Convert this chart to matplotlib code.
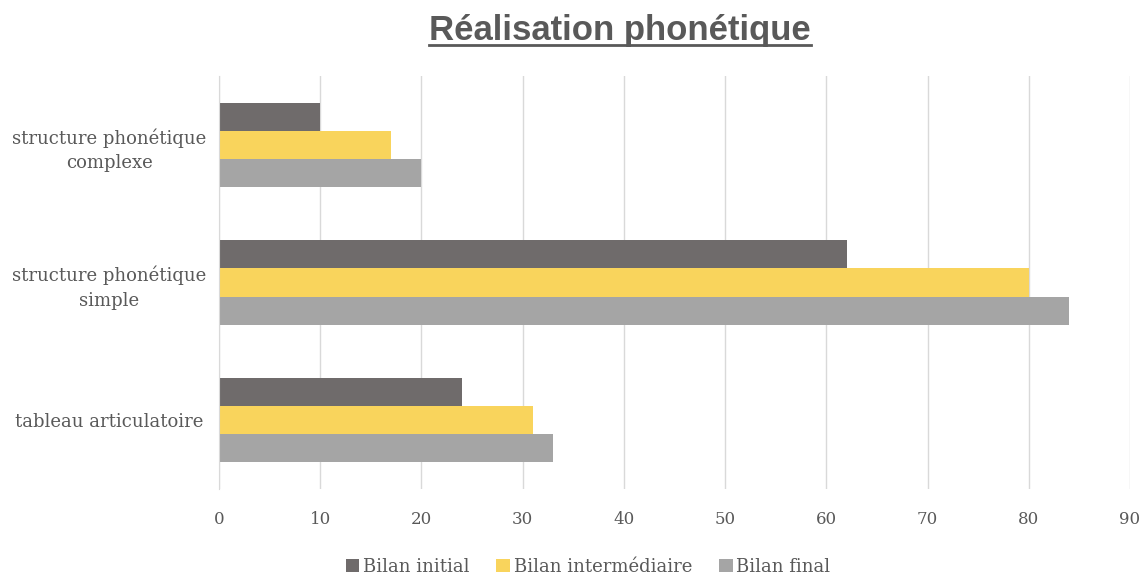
import matplotlib
matplotlib.use("Agg")
import matplotlib.pyplot as plt
import numpy as np
from matplotlib.lines import Line2D

title = "Réalisation phonétique"
categories = ["tableau articulatoire", "structure phonétique\nsimple", "structure phonétique\ncomplexe"]
series_names = ["Bilan initial", "Bilan intermédiaire", "Bilan final"]
bilan_initial = [24, 62, 10]
bilan_intermediaire = [31, 80, 17]
bilan_final = [33, 84, 20]
xticks = [0, 10, 20, 30, 40, 50, 60, 70, 80, 90]

colors = ["#6f6b6b", "#f9d45c", "#a5a5a5"]
serif = ["DejaVu Serif"]

W, H = 1144, 579
fig = plt.figure(figsize=(W / 100, H / 100), dpi=100)
ax = fig.add_axes([219/W, 1 - 489/H, (1130-219)/W, (489-76)/H])

y = np.arange(len(categories))
h = 0.205
series = [bilan_initial, bilan_intermediaire, bilan_final]
for i, (vals, name, c) in enumerate(zip(series, series_names, colors)):
    ax.barh(y + (1 - i) * h, vals, height=h, color=c, label=name, zorder=3)

ax.set_xlim(0, 90)
ax.set_ylim(-0.5, 2.5)
ax.set_xticks(xticks)
ax.set_xticklabels([str(t) for t in xticks], fontfamily=serif, fontsize=12, color="#595959")
ax.set_yticks(y)
ax.set_yticklabels(categories, fontfamily=serif, fontsize=13, color="#595959",
                   ha="center", linespacing=1.45)
ax.tick_params(axis="y", length=0, pad=79)
ax.tick_params(axis="x", length=0, pad=16)
ax.grid(axis="x", color="#d9d9d9", linewidth=1, zorder=0)
for s in ["top", "right", "bottom"]:
    ax.spines[s].set_visible(False)
ax.spines["left"].set_color("#d9d9d9")
ax.spines["left"].set_zorder(4)

t = fig.text(0.542, 1 - 40/H, title, ha="center", va="baseline", fontsize=25,
             fontweight="bold", color="#595959", fontfamily=["Liberation Sans", "DejaVu Sans"])
fig.canvas.draw()
bb = t.get_window_extent(renderer=fig.canvas.get_renderer())
fig.add_artist(Line2D([bb.x0 / W, bb.x1 / W], [1 - 45/H] * 2,
                      transform=fig.transFigure, color="#595959", linewidth=2))

leg = fig.legend(loc="center", bbox_to_anchor=(0.514, 1 - 567/H), ncol=3, frameon=False,
                 prop={"family": serif, "size": 13}, handlelength=0.75, handleheight=0.75,
                 handletextpad=0.2, columnspacing=1.5, labelcolor="#595959")

fig.savefig("out.png", dpi=100)
